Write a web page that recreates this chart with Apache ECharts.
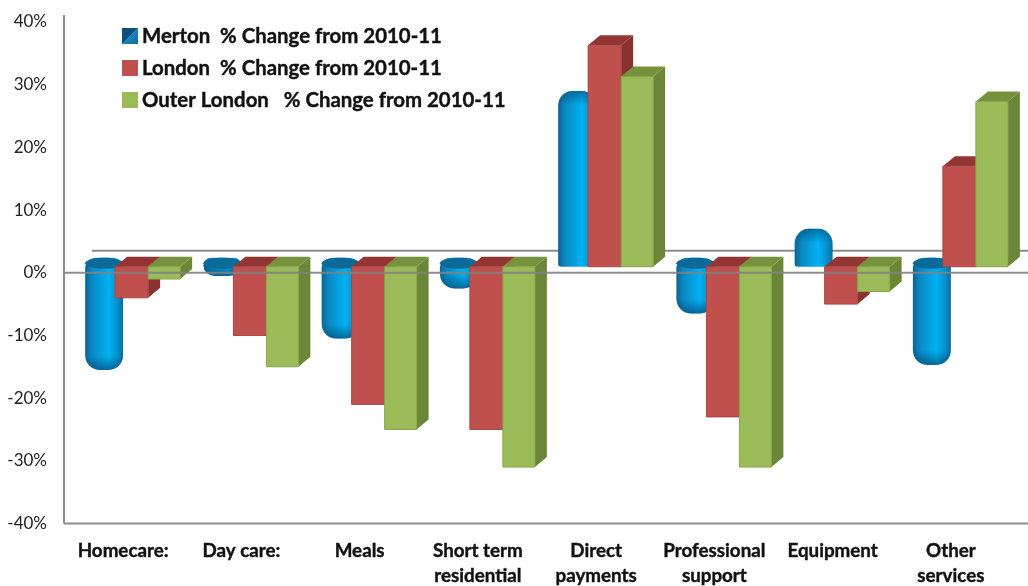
<!DOCTYPE html>
<html>
<head>
<meta charset="utf-8">
<style>html,body{margin:0;padding:0;background:#fff}#c{width:1028px;height:586px}</style>
<script src="https://cdn.jsdelivr.net/npm/echarts@6/dist/echarts.min.js"></script>
</head>
<body>
<div id="c"></div>
<script>
const categories = ['Homecare:', 'Day care:', 'Meals', 'Short term\nresidential', 'Direct\npayments', 'Professional\nsupport', 'Equipment', 'Other\nservices'];
const mertonName = 'Merton  % Change from 2010-11';
const londonName = 'London  % Change from 2010-11';
const outerName = 'Outer London   % Change from 2010-11';
const merton = [-15.5, -0.5, -10.5, -2.5, 29, -6.5, 7, -14.7];
const london = [-4, -10, -21, -25, 36.3, -23, -5, 17];
const outer = [-1, -15, -25, -31, 31.3, -31, -3, 27.3];

const FONT = 'Lato, Carlito, sans-serif';
const BACK_X = 12, BACK_Y = 10, FRONT_LIFT = 6;
const toData = arr => arr.map((v, i) => [i, v]);

function box(colors, offset, width) {
  return function (params, api) {
    const c = api.coord([api.value(0), api.value(1)]);
    const zero = api.coord([api.value(0), 0]);
    const x = c[0] + offset, base = zero[1] - FRONT_LIFT;
    const end = c[1];
    const top = Math.min(base, end), bot = Math.max(base, end);
    const h = bot - top;
    return {
      type: 'group',
      children: [
        { type: 'polygon', shape: { points: [[x + width, top], [x + width + BACK_X, top - BACK_Y], [x + width + BACK_X, bot - BACK_Y], [x + width, bot]] }, style: { fill: colors.side } },
        { type: 'polygon', shape: { points: [[x, top], [x + BACK_X, top - BACK_Y], [x + width + BACK_X, top - BACK_Y], [x + width, top]] }, style: { fill: colors.top } },
        { type: 'rect', shape: { x, y: top, width, height: h }, style: { fill: colors.front, stroke: colors.edge, lineWidth: 1 } }
      ]
    };
  };
}

function cyl(params, api) {
  const OFFSET = -38, W = 38;
  const c = api.coord([api.value(0), api.value(1)]);
  const zero = api.coord([api.value(0), 0]);
  const x = c[0] + OFFSET;
  const base = zero[1] - FRONT_LIFT;
  const v = api.value(1);
  const body = { type: 'linear', x: 0, y: 0, x2: 1, y2: 0, colorStops: [
    { offset: 0, color: '#0b6596' }, { offset: 0.18, color: '#0a88c2' }, { offset: 0.62, color: '#00b2f2' }, { offset: 0.85, color: '#0a8fcb' }, { offset: 1, color: '#0b6c9f' }] };
  if (v < 0) {
    const top = base - 9, bot = c[1];
    const h = bot - top;
    const shadeH = Math.min(14, h);
    return { type: 'group', children: [
      { type: 'rect', shape: { x, y: top, width: W, height: h, r: [11, 11, 15, 15] }, style: { fill: body } },
      { type: 'rect', shape: { x, y: bot - shadeH, width: W, height: shadeH, r: [0, 0, 15, 15] },
        style: { fill: { type: 'linear', x: 0, y: 0, x2: 0, y2: 1, colorStops: [{ offset: 0, color: 'rgba(5,60,100,0)' }, { offset: 1, color: 'rgba(5,60,100,0.6)' }] } } },
      { type: 'ellipse', shape: { cx: x + W / 2, cy: top + 5.5, rx: W / 2, ry: 5.5 }, style: { fill: '#0c6a99' } }
    ] };
  }
  const top = c[1], h = base - top;
  return { type: 'group', children: [
    { type: 'rect', shape: { x, y: top, width: W, height: h, r: [15, 15, 3, 3] }, style: { fill: body } },
    { type: 'rect', shape: { x, y: top, width: W, height: 14, r: [15, 15, 0, 0] },
      style: { fill: { type: 'linear', x: 0, y: 0, x2: 0, y2: 1, colorStops: [{ offset: 0, color: 'rgba(5,70,115,0.6)' }, { offset: 1, color: 'rgba(5,70,115,0)' }] } } }
  ] };
}

function lineMaker(kind) {
  return function (params, api) {
    const g = params.coordSys;
    const z = api.coord([0, 0])[1];
    const GRAY = '#8c8c8c', FAR = 1028;
    if (kind === 'back') {
      return { type: 'line', shape: { x1: g.x + 28, y1: z - 22, x2: FAR, y2: z - 22 }, style: { stroke: GRAY, lineWidth: 2 } };
    }
    return { type: 'group', children: [
      { type: 'line', shape: { x1: g.x, y1: z, x2: FAR, y2: z }, style: { stroke: 'rgba(130,130,130,0.9)', lineWidth: 2 } },
      { type: 'line', shape: { x1: g.x, y1: g.y + g.height, x2: FAR, y2: g.y + g.height }, style: { stroke: GRAY, lineWidth: 2 } },
      { type: 'line', shape: { x1: g.x, y1: g.y - 7, x2: g.x, y2: g.y + g.height }, style: { stroke: GRAY, lineWidth: 2 } }
    ] };
  };
}

const redColors = { front: '#c0504d', top: '#933533', side: '#8a3230', edge: '#a94744' };
const greenColors = { front: '#9bbb59', top: '#76923c', side: '#6c8638', edge: '#88a64c' };
const boldText = { fontFamily: FONT, fontWeight: 'bold', color: '#111', textBorderColor: '#111', textBorderWidth: 0.4 };

const chart = echarts.init(document.getElementById('c'), null, { renderer: 'canvas' });
chart.setOption({
  animation: false,
  backgroundColor: '#fff',
  grid: { left: 64, top: 22, width: 946, height: 501.5, outerBoundsMode: 'none' },
  legend: {
    data: [mertonName, londonName, outerName],
    orient: 'vertical', left: 117, top: 19,
    itemWidth: 16, itemHeight: 16, itemGap: 8, icon: 'rect', selectedMode: false,
    textStyle: Object.assign({ fontSize: 20.4, lineHeight: 24, padding: [0, 0, 0, -1] }, boldText)
  },
  xAxis: {
    type: 'category', data: categories,
    axisLine: { show: false }, axisTick: { show: false },
    axisLabel: Object.assign({ interval: 0, margin: 15, fontSize: 18.8, lineHeight: 25, verticalAlign: 'top' }, boldText)
  },
  yAxis: {
    type: 'value', min: -40, max: 40, interval: 10,
    axisLine: { show: false }, axisTick: { show: false }, splitLine: { show: false },
    axisLabel: { formatter: '{value}%', margin: 17, color: '#222', fontFamily: FONT, fontSize: 17 }
  },
  series: [
    { type: 'custom', name: 'backline', z: 1, data: [[0, 0]], encode: { x: 0, y: 1 }, renderItem: lineMaker('back'), silent: true },
    { type: 'custom', name: mertonName, z: 2, data: toData(merton), encode: { x: 0, y: 1 }, renderItem: cyl,
      itemStyle: { color: { type: 'linear', x: 0, y: 0, x2: 1, y2: 1, colorStops: [{ offset: 0, color: '#104f7c' }, { offset: 0.5, color: '#104f7c' }, { offset: 0.5, color: '#1a86bb' }, { offset: 1, color: '#0f6a9c' }] } } },
    { type: 'custom', name: londonName, z: 3, data: toData(london), encode: { x: 0, y: 1 }, renderItem: box(redColors, -8, 33), itemStyle: { color: '#c0504d' } },
    { type: 'custom', name: outerName, z: 4, data: toData(outer), encode: { x: 0, y: 1 }, renderItem: box(greenColors, 25, 32), itemStyle: { color: '#9bbb59' } },
    { type: 'custom', name: 'axes', z: 5, data: [[0, 0]], encode: { x: 0, y: 1 }, renderItem: lineMaker('front'), silent: true }
  ]
});
</script>
</body>
</html>
